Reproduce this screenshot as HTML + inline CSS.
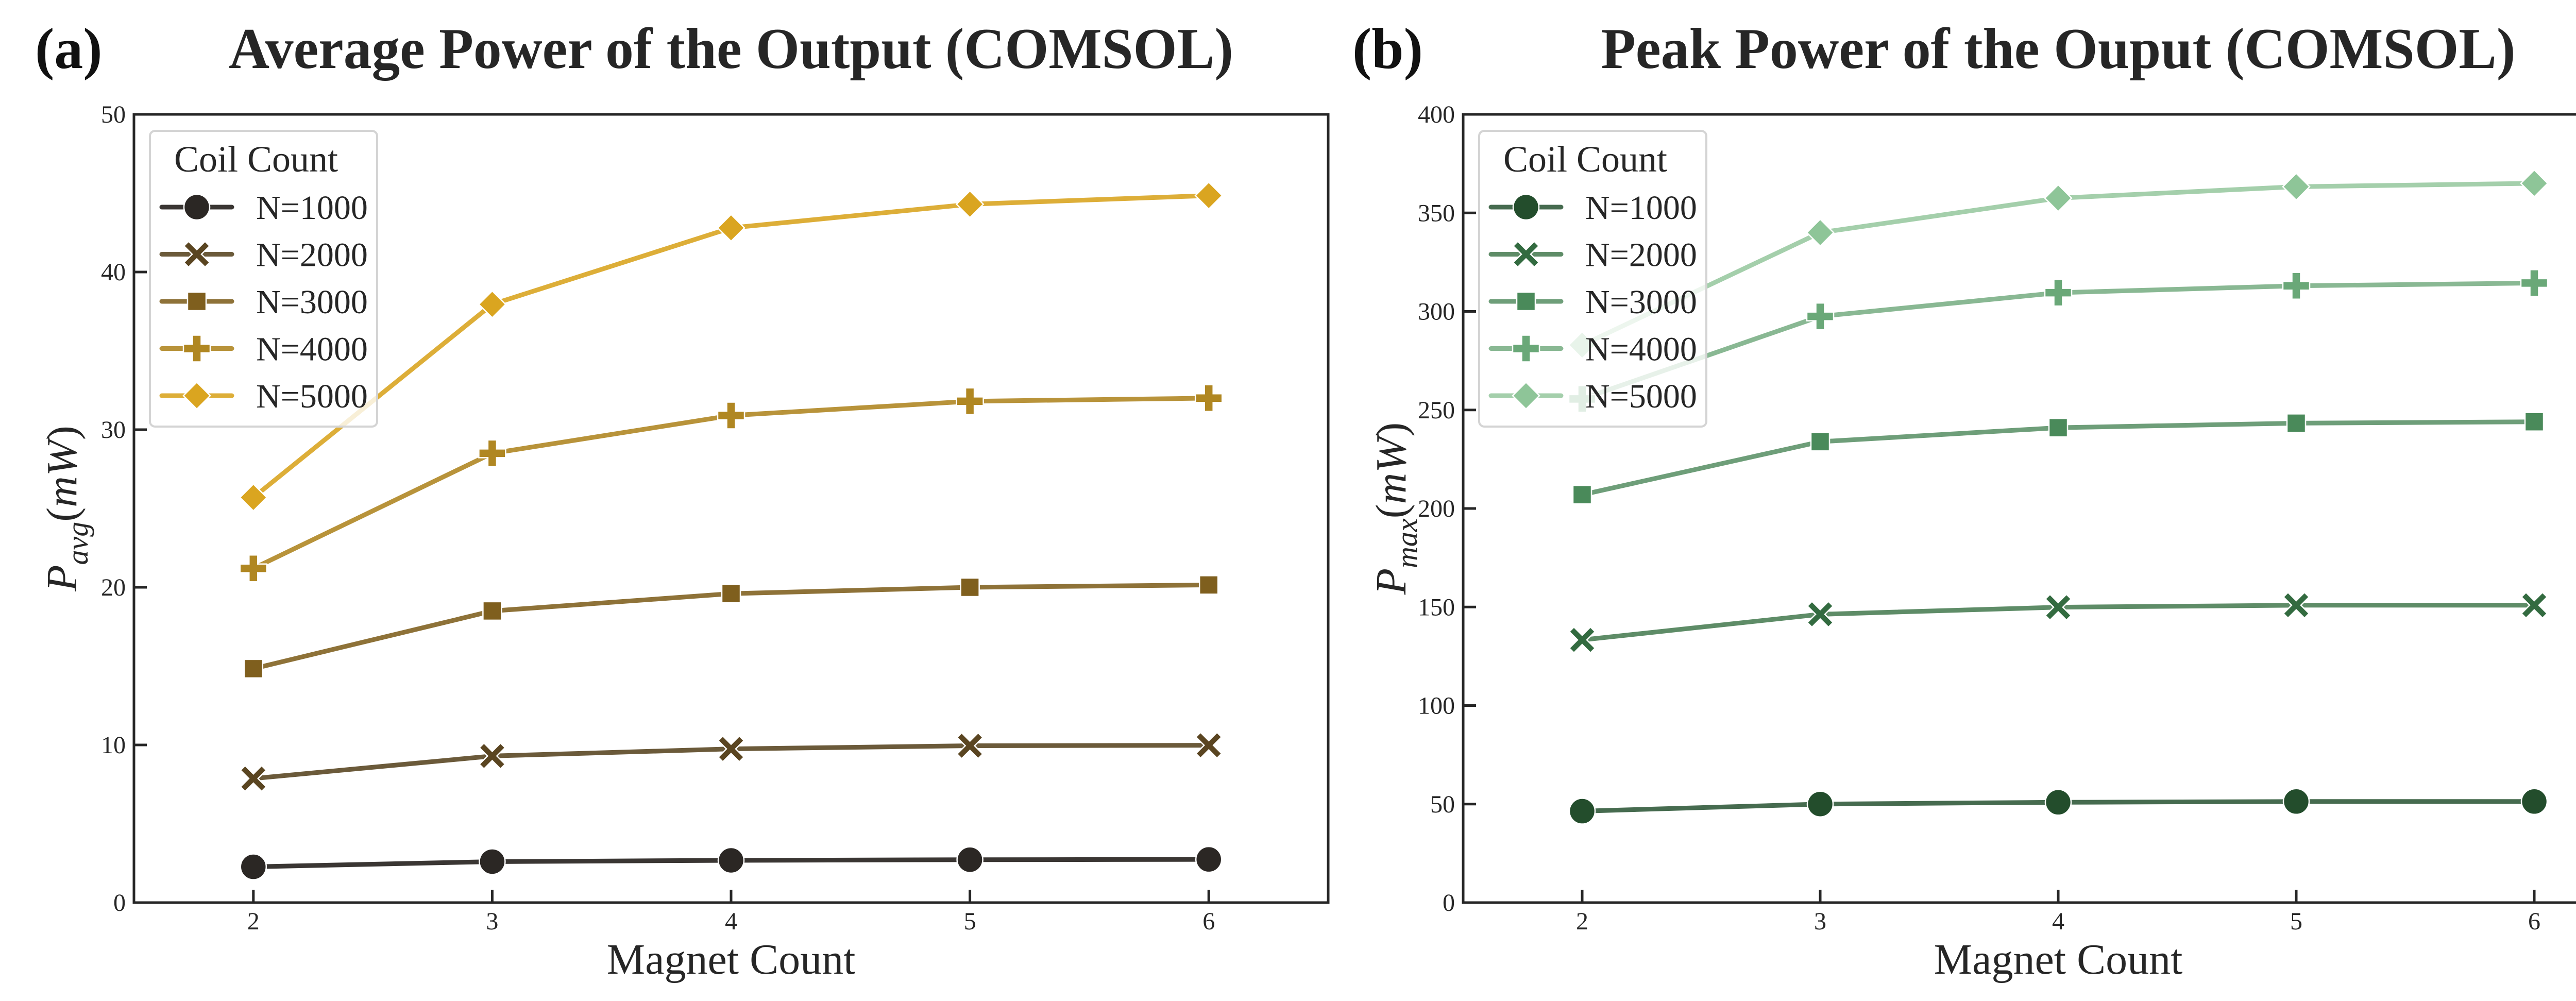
<!DOCTYPE html>
<html><head><meta charset="utf-8">
<meta name="viewport" content="width=5183, initial-scale=1">
<style>
html,body{margin:0;padding:0;background:#fff;width:5183px;height:1943px;overflow:hidden;}
svg{display:block;position:absolute;left:0;top:0;font-family:"Liberation Serif","DejaVu Serif",serif;}
</style></head>
<body>
<svg id="fig" width="5183" height="1943" viewBox="0 0 5183 1943" xmlns="http://www.w3.org/2000/svg">
<rect width="5183" height="1943" fill="#fff"/>
<g id="panelA"></g>
<g id="panelB"></g>
</svg>
<script>
const magnetCounts = [2, 3, 4, 5, 6];
const seriesLabels = ["N=1000", "N=2000", "N=3000", "N=4000", "N=5000"];
const avgN1000 = [2.27, 2.6, 2.68, 2.72, 2.74];
const avgN2000 = [7.87, 9.3, 9.75, 9.95, 9.98];
const avgN3000 = [14.84, 18.5, 19.6, 20.0, 20.15];
const avgN4000 = [21.2, 28.5, 30.9, 31.8, 32.0];
const avgN5000 = [25.7, 37.95, 42.8, 44.3, 44.85];
const peakN1000 = [46.4, 50, 50.9, 51.3, 51.3];
const peakN2000 = [133.3, 146.3, 149.9, 150.9, 150.9];
const peakN3000 = [207, 233.9, 241, 243.3, 244];
const peakN4000 = [255.6, 297.5, 309.5, 313, 314.4];
const peakN5000 = [282.9, 340, 357.5, 363.3, 365];
const xTicks = [2, 3, 4, 5, 6];
const avgYTicks = [0, 10, 20, 30, 40, 50];
const peakYTicks = [0, 50, 100, 150, 200, 250, 300, 350, 400];

const NS = "http://www.w3.org/2000/svg";
function mk(tag, attrs, parent) {
  const e = document.createElementNS(NS, tag);
  for (const k in attrs) e.setAttribute(k, attrs[k]);
  if (parent) parent.appendChild(e);
  return e;
}
const markers = ["circle", "x", "square", "plus", "diamond"];
function drawMarker(g, type, cx, cy, fill, s) {
  const st = {fill: fill, stroke: "#fff", "stroke-width": 2.5};
  let el;
  if (type === "circle") el = mk("circle", Object.assign({cx: cx, cy: cy, r: 25*s}, st), g);
  else if (type === "square") el = mk("rect", Object.assign({x: cx-18*s, y: cy-18*s, width: 36*s, height: 36*s}, st), g);
  else if (type === "diamond") el = mk("path", Object.assign({d: `M${cx} ${cy-26*s}L${cx+26*s} ${cy}L${cx} ${cy+26*s}L${cx-26*s} ${cy}Z`}, st), g);
  else if (type === "plus") { const a = 26*s, t = 8.5*s;
    el = mk("path", Object.assign({d: `M${cx-t} ${cy-a}H${cx+t}V${cy-t}H${cx+a}V${cy+t}H${cx+t}V${cy+a}H${cx-t}V${cy+t}H${cx-a}V${cy-t}H${cx-t}Z`}, st), g); }
  else { const a = 25*s, t = 9*s;
    el = mk("path", Object.assign({d: `M${cx-a+t} ${cy-a}L${cx} ${cy-t}L${cx+a-t} ${cy-a}L${cx+a} ${cy-a+t}L${cx+t} ${cy}L${cx+a} ${cy+a-t}L${cx+a-t} ${cy+a}L${cx} ${cy+t}L${cx-a+t} ${cy+a}L${cx-a} ${cy+a-t}L${cx-t} ${cy}L${cx-a} ${cy-a+t}Z`}, st), g); }
  return el;
}

function panel(g, cfg) {
  const L = cfg.left, R = cfg.right, T = 222, B = 1752;
  const xs = v => L + (v - 1.5) / 5 * (R - L);
  const ys = v => B - v / cfg.ymax * (B - T);
  const lab = mk("text", {x: cfg.labX, y: 132, "font-size": 112, "font-weight": "bold", fill: "#111"}, g);
  lab.textContent = cfg.letter;
  
  
  const tt = mk("text", {x: (L+R)/2, y: 132, "font-size": 112, "font-weight": "bold", fill: "#262626", "text-anchor": "middle", textLength: cfg.titleW, lengthAdjust: "spacingAndGlyphs"}, g);
  tt.textContent = cfg.title;
  
  
  cfg.yTicks.forEach(v => {
    const y = ys(v);
    const tk = mk("line", {x1: L, x2: L+25, y1: y, y2: y, stroke: "#262626", "stroke-width": 5}, g);
    
    
    const t = mk("text", {x: L-16, y: y+16, "font-size": 48, fill: "#262626", "text-anchor": "end"}, g);
    t.textContent = v;
    
    
  });
  xTicks.forEach(v => {
    const x = xs(v);
    const tk = mk("line", {x1: x, x2: x, y1: B, y2: B-25, stroke: "#262626", "stroke-width": 5}, g);
    
    
    const t = mk("text", {x: x, y: 1804, "font-size": 48, fill: "#262626", "text-anchor": "middle"}, g);
    t.textContent = v;
    
    
  });
  const xl = mk("text", {x: (L+R)/2, y: 1890, "font-size": 84, fill: "#262626", "text-anchor": "middle"}, g);
  xl.textContent = "Magnet Count";
  
  
  const yl = mk("text", {transform: `translate(${L-112},${(T+B)/2}) rotate(-90)`, "font-size": 84, fill: "#262626", "text-anchor": "middle", "font-style": "italic"}, g);
  yl.innerHTML = `P<tspan font-size="58" dy="22">${cfg.sub}</tspan><tspan dy="-22" font-style="normal">(</tspan>mW<tspan font-style="normal">)</tspan>`;
  
  
  cfg.series.forEach((vals, i) => {
    const sg = mk("g", {}, g);
    
    
    const pts = vals.map((v, j) => xs(magnetCounts[j]) + "," + ys(v)).join(" ");
    const pl = mk("polyline", {points: pts, fill: "none", stroke: cfg.lineC[i], "stroke-width": 9, "stroke-linejoin": "round"}, sg);
    
    
    vals.forEach((v, j) => {
      const m = drawMarker(sg, markers[i], xs(magnetCounts[j]), ys(v), cfg.markC[i], 1);
      
      
    });
  });
  const fr = mk("rect", {x: L, y: T, width: R-L, height: B-T, fill: "none", stroke: "#262626", "stroke-width": 5}, g);
  
  
  const lg = mk("g", {}, g);
  
  
  const lx = L + 31;
  const lb = mk("rect", {x: lx, y: 254, width: 441, height: 574, rx: 10, fill: "rgba(255,255,255,0.8)", stroke: "#d4d4d4", "stroke-width": 4}, lg);
  
  
  const lt = mk("text", {x: lx + 206, y: 333, "font-size": 72, fill: "#262626", "text-anchor": "middle"}, lg);
  lt.textContent = "Coil Count";
  
  
  seriesLabels.forEach((s, i) => {
    const y = 402 + i * 91.5;
    const eg = mk("g", {}, lg);
    
    
    mk("line", {x1: lx+23, x2: lx+159, y1: y, y2: y, stroke: cfg.lineC[i], "stroke-width": 9, "stroke-linecap": "round"}, eg);
    drawMarker(eg, markers[i], lx+91, y, cfg.markC[i], 1);
    const t = mk("text", {x: lx+206, y: y+23, "font-size": 66, fill: "#262626"}, eg);
    t.textContent = s;
  });
}

panel(document.getElementById("panelA"), {
  left: 260, right: 2578, ymax: 50, yTicks: avgYTicks, letter: "(a)", labX: 68,
  title: "Average Power of the Output (COMSOL)", titleW: 1950, sub: "avg",
  series: [avgN1000, avgN2000, avgN3000, avgN4000, avgN5000],
  lineC: ["#3a3633", "#6b5a3a", "#8e7238", "#b8933a", "#ddae38"],
  markC: ["#2b2724", "#5a4521", "#7f5f1e", "#b08722", "#daa520"]
});
panel(document.getElementById("panelB"), {
  left: 2840, right: 5150, ymax: 400, yTicks: peakYTicks, letter: "(b)", labX: 2625,
  title: "Peak Power of the Ouput (COMSOL)", titleW: 1775, sub: "max",
  series: [peakN1000, peakN2000, peakN3000, peakN4000, peakN5000],
  lineC: ["#466b4f", "#5e8c67", "#6e9e79", "#89b893", "#a4cfab"],
  markC: ["#234d2c", "#336b40", "#4a8a5a", "#6aa878", "#8ec598"]
});
</script>
</body></html>
